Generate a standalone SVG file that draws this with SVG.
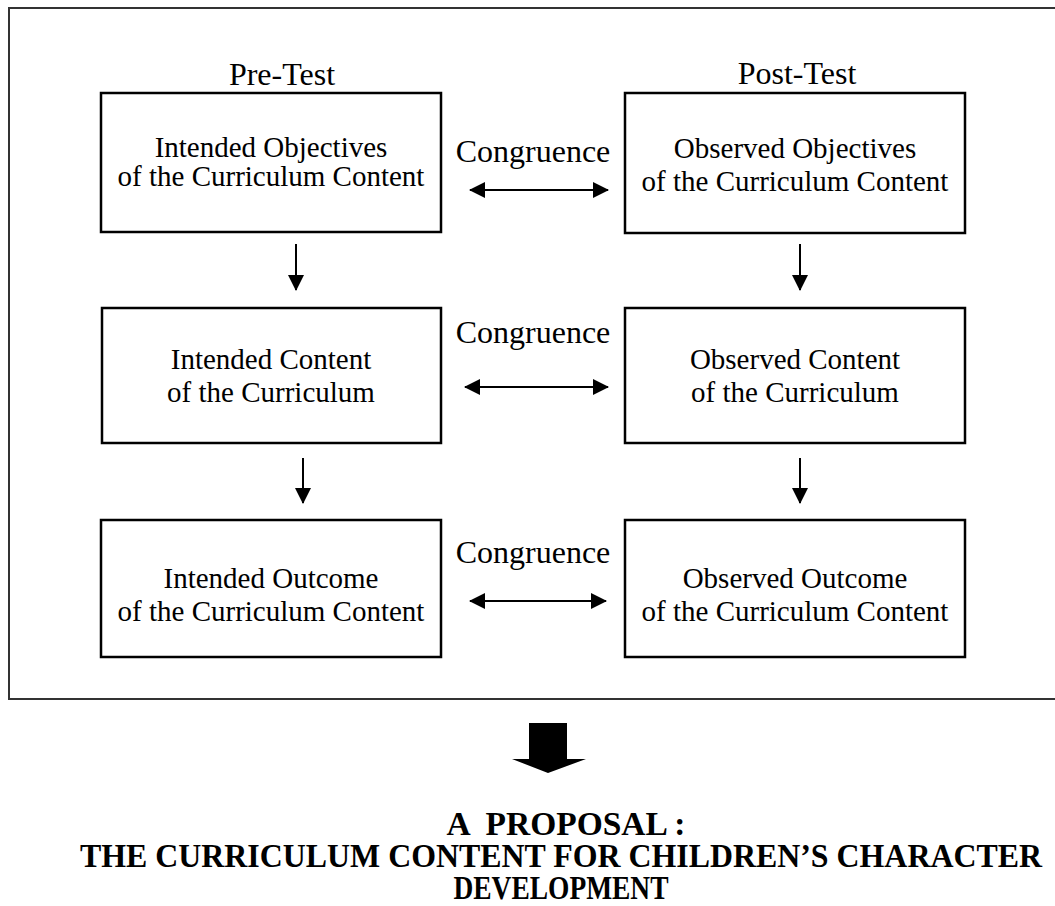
<svg xmlns="http://www.w3.org/2000/svg" width="1055" height="906" viewBox="0 0 1055 906">
<defs>
<style>
.box{fill:#fff;stroke:#000;stroke-width:2.5}
.t{font-family:"Liberation Serif","Times New Roman",serif;font-size:29px;fill:#000;text-anchor:middle}
.h{font-family:"Liberation Serif","Times New Roman",serif;font-size:32px;fill:#000;text-anchor:middle}
.b{font-family:"Liberation Serif","Times New Roman",serif;font-size:33px;font-weight:bold;fill:#000;text-anchor:middle}
.ln{stroke:#000;stroke-width:2;fill:none}
</style>
<marker id="ah" viewBox="0 0 16 16" refX="15" refY="8" markerWidth="16" markerHeight="16" markerUnits="userSpaceOnUse" orient="auto-start-reverse">
<path d="M0,0 L16,8 L0,16 Z" fill="#000"/>
</marker>
</defs>
<rect width="1055" height="906" fill="#fff"/>
<rect id="frame" x="9" y="8" width="1060" height="691" fill="none" stroke="#333" stroke-width="2"/>
<text class="h" x="282" y="85">Pre-Test</text>
<text class="h" x="797" y="84">Post-Test</text>
<g id="intended-objectives"><rect class="box" x="101" y="93" width="340" height="139"/><text class="t" x="271" y="157">Intended Objectives</text><text class="t" x="271" y="186">of the Curriculum Content</text></g>
<g id="observed-objectives"><rect class="box" x="625" y="93" width="340" height="140"/><text class="t" x="795" y="158">Observed Objectives</text><text class="t" x="795" y="191">of the Curriculum Content</text></g>
<g id="intended-content"><rect class="box" x="102" y="308" width="339" height="135"/><text class="t" x="271" y="369">Intended Content</text><text class="t" x="271" y="402">of the Curriculum</text></g>
<g id="observed-content"><rect class="box" x="625" y="308" width="340" height="135"/><text class="t" x="795" y="369">Observed Content</text><text class="t" x="795" y="402">of the Curriculum</text></g>
<g id="intended-outcome"><rect class="box" x="101" y="520" width="340" height="137"/><text class="t" x="271" y="588">Intended Outcome</text><text class="t" x="271" y="621">of the Curriculum Content</text></g>
<g id="observed-outcome"><rect class="box" x="625" y="520" width="340" height="137"/><text class="t" x="795" y="588">Observed Outcome</text><text class="t" x="795" y="621">of the Curriculum Content</text></g>
<g id="labels">
<text class="h" x="533" y="162">Congruence</text>
<text class="h" x="533" y="343">Congruence</text>
<text class="h" x="533" y="563">Congruence</text>
</g>
<g id="connectors">
<line class="ln" x1="470" y1="190" x2="608" y2="190" marker-start="url(#ah)" marker-end="url(#ah)"/>
<line class="ln" x1="465" y1="387" x2="608" y2="387" marker-start="url(#ah)" marker-end="url(#ah)"/>
<line class="ln" x1="470" y1="601" x2="606" y2="601" marker-start="url(#ah)" marker-end="url(#ah)"/>
<line class="ln" x1="296" y1="244" x2="296" y2="290" marker-end="url(#ah)"/>
<line class="ln" x1="800" y1="244" x2="800" y2="290" marker-end="url(#ah)"/>
<line class="ln" x1="303" y1="458" x2="303" y2="503" marker-end="url(#ah)"/>
<line class="ln" x1="800" y1="458" x2="800" y2="503" marker-end="url(#ah)"/>
<path id="block-arrow" d="M529,723 L567,723 L567,759 L586,759 L548,773 L512,759 L529,759 Z" fill="#000"/>
</g>
<g id="proposal">
<text class="b" x="566" y="835" xml:space="preserve" textLength="239" lengthAdjust="spacingAndGlyphs">A  PROPOSAL :</text>
<text class="b" x="561" y="867" textLength="962" lengthAdjust="spacingAndGlyphs">THE CURRICULUM CONTENT FOR CHILDREN’S CHARACTER</text>
<text class="b" x="561" y="899" textLength="215" lengthAdjust="spacingAndGlyphs">DEVELOPMENT</text>
</g>
</svg>
